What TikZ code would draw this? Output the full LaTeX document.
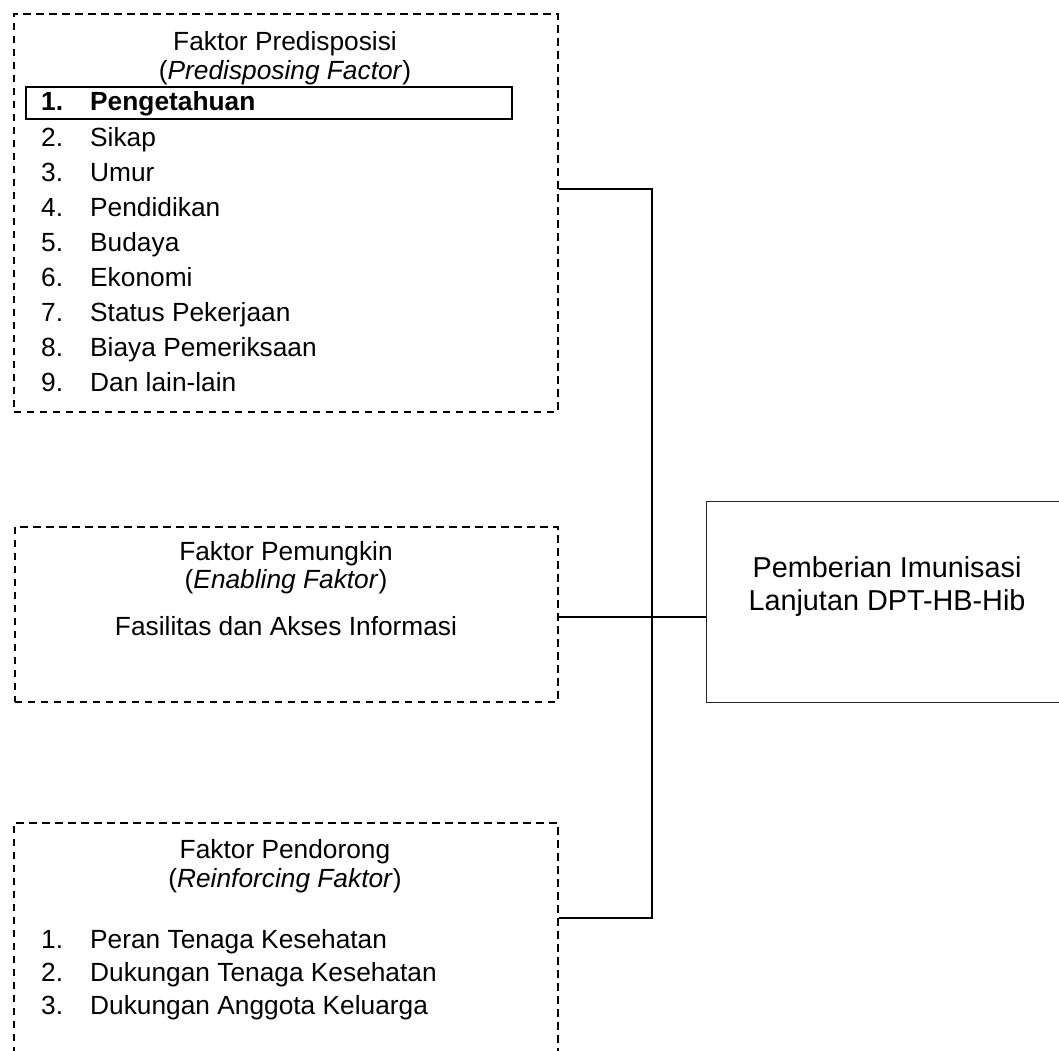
\documentclass[tikz,border=0pt]{standalone}
\usepackage{fontspec}
\setmainfont{Liberation Sans}
\begin{document}
\begin{tikzpicture}[x=1pt,y=-1pt,
  dashbox/.style={draw=black, line width=1.8pt, dash pattern=on 7.5pt off 5.5pt, anchor=north west, inner sep=0pt},
  solidbox/.style={draw=black!85, line width=1.2pt, anchor=north west, inner sep=0pt},
  conn/.style={draw=black, line width=1.5pt},
  txt/.style={font=\fontsize{26.3}{30}\selectfont, inner sep=0pt},
  bigtxt/.style={font=\fontsize{28.8}{33}\selectfont, inner sep=0pt}]
\useasboundingbox (0,0) rectangle (1059,1050);
\clip (0,0) rectangle (1059,1050);
% boxes
\node[dashbox, minimum width=544pt, minimum height=398pt] (pre) at (13,13) {};
\node[solidbox, draw=black, line width=1.5pt, minimum width=486pt, minimum height=32pt] (know) at (25,86) {};
\node[dashbox, minimum width=543pt, minimum height=175pt] (pem) at (14,526) {};
\node[dashbox, minimum width=544pt, minimum height=300pt] (pen) at (13,822) {};
\node[solidbox, minimum width=362pt, minimum height=201pt] (out) at (706,501) {};
% top box text
\node[txt, anchor=base] (preT1) at (285,50) {Faktor Predisposisi};
\node[txt, anchor=base] (preT2) at (285,79) {(\textit{Predisposing Factor})};
\node[txt, anchor=base west] (pn1) at (41,110) {\textbf{1.}};
\node[txt, anchor=base west] (p1) at (90,110) {\textbf{Pengetahuan}};
\foreach \n/\t/\y in {2/Sikap/146, 3/Umur/181, 4/Pendidikan/216, 5/Budaya/251, 6/Ekonomi/286, 7/Status Pekerjaan/321, 8/Biaya Pemeriksaan/356, 9/Dan lain-lain/391}{
  \node[txt, anchor=base west] (pn\n) at (41,\y) {\n.};
  \node[txt, anchor=base west] (p\n) at (90,\y) {\t};
}
% middle box text
\node[txt, anchor=base] (pemT1) at (286,560) {Faktor Pemungkin};
\node[txt, anchor=base] (pemT2) at (286,588) {(\textit{Enabling Faktor})};
\node[txt, anchor=base] (pemT3) at (286,635) {Fasilitas dan Akses Informasi};
% bottom box text
\node[txt, anchor=base] (penT1) at (285,858) {Faktor Pendorong};
\node[txt, anchor=base] (penT2) at (285,887) {(\textit{Reinforcing Faktor})};
\foreach \n/\t/\y in {1/Peran Tenaga Kesehatan/948, 2/Dukungan Tenaga Kesehatan/981, 3/Dukungan Anggota Keluarga/1014}{
  \node[txt, anchor=base west] (qn\n) at (41,\y) {\n.};
  \node[txt, anchor=base west] (q\n) at (90,\y) {\t};
}
% outcome text
\node[bigtxt, anchor=base] (outT1) at (887,577) {Pemberian Imunisasi};
\node[bigtxt, anchor=base] (outT2) at (887,610) {Lanjutan DPT-HB-Hib};
% connectors
\coordinate (j1) at (652,189);
\coordinate (j2) at (652,918);
\coordinate (j3) at (652,617);
\draw[conn] (pre.east |- j1) -- (j1) -- (j2) -- (pen.east |- j2);
\draw[conn] (pem.east |- j3) -- (out.west |- j3);
\end{tikzpicture}
\end{document}
